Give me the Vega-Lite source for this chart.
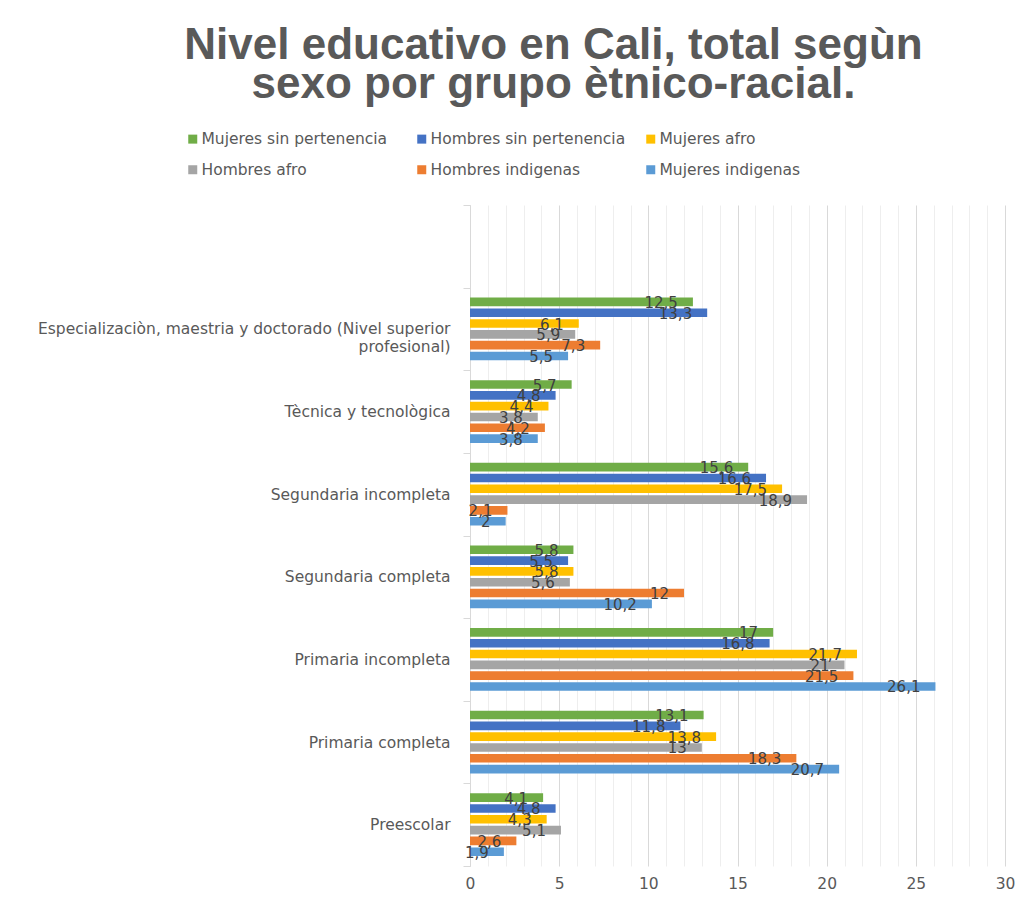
{
  "$schema": "https://vega.github.io/schema/vega-lite/v6.json",
  "autosize": {"type": "none"},
  "padding": {"left": 470, "top": 205, "right": 22, "bottom": 31},
  "width": 535,
  "height": 661,
  "background": "white",
  "title": {
    "text": ["Nivel educativo en Cali, total segùn", "sexo por grupo ètnico-racial."],
    "font": "Liberation Sans",
    "fontSize": 44,
    "fontWeight": "bold",
    "color": "#595959",
    "lineHeight": 39,
    "anchor": "middle",
    "frame": "group",
    "dx": -184,
    "offset": 24
  },
  "config": {
    "view": {"stroke": null},
    "font": "DejaVu Sans"
  },
  "data": {
    "values": [
      {"nivel": "Especializaciòn, maestria y doctorado (Nivel superior profesional)", "grupo": "Mujeres sin pertenencia", "valor": 12.5},
      {"nivel": "Especializaciòn, maestria y doctorado (Nivel superior profesional)", "grupo": "Hombres sin pertenencia", "valor": 13.3},
      {"nivel": "Especializaciòn, maestria y doctorado (Nivel superior profesional)", "grupo": "Mujeres afro", "valor": 6.1},
      {"nivel": "Especializaciòn, maestria y doctorado (Nivel superior profesional)", "grupo": "Hombres afro", "valor": 5.9},
      {"nivel": "Especializaciòn, maestria y doctorado (Nivel superior profesional)", "grupo": "Hombres indigenas", "valor": 7.3},
      {"nivel": "Especializaciòn, maestria y doctorado (Nivel superior profesional)", "grupo": "Mujeres indigenas", "valor": 5.5},
      {"nivel": "Tècnica y tecnològica", "grupo": "Mujeres sin pertenencia", "valor": 5.7},
      {"nivel": "Tècnica y tecnològica", "grupo": "Hombres sin pertenencia", "valor": 4.8},
      {"nivel": "Tècnica y tecnològica", "grupo": "Mujeres afro", "valor": 4.4},
      {"nivel": "Tècnica y tecnològica", "grupo": "Hombres afro", "valor": 3.8},
      {"nivel": "Tècnica y tecnològica", "grupo": "Hombres indigenas", "valor": 4.2},
      {"nivel": "Tècnica y tecnològica", "grupo": "Mujeres indigenas", "valor": 3.8},
      {"nivel": "Segundaria incompleta", "grupo": "Mujeres sin pertenencia", "valor": 15.6},
      {"nivel": "Segundaria incompleta", "grupo": "Hombres sin pertenencia", "valor": 16.6},
      {"nivel": "Segundaria incompleta", "grupo": "Mujeres afro", "valor": 17.5},
      {"nivel": "Segundaria incompleta", "grupo": "Hombres afro", "valor": 18.9},
      {"nivel": "Segundaria incompleta", "grupo": "Hombres indigenas", "valor": 2.1},
      {"nivel": "Segundaria incompleta", "grupo": "Mujeres indigenas", "valor": 2},
      {"nivel": "Segundaria completa", "grupo": "Mujeres sin pertenencia", "valor": 5.8},
      {"nivel": "Segundaria completa", "grupo": "Hombres sin pertenencia", "valor": 5.5},
      {"nivel": "Segundaria completa", "grupo": "Mujeres afro", "valor": 5.8},
      {"nivel": "Segundaria completa", "grupo": "Hombres afro", "valor": 5.6},
      {"nivel": "Segundaria completa", "grupo": "Hombres indigenas", "valor": 12},
      {"nivel": "Segundaria completa", "grupo": "Mujeres indigenas", "valor": 10.2},
      {"nivel": "Primaria incompleta", "grupo": "Mujeres sin pertenencia", "valor": 17},
      {"nivel": "Primaria incompleta", "grupo": "Hombres sin pertenencia", "valor": 16.8},
      {"nivel": "Primaria incompleta", "grupo": "Mujeres afro", "valor": 21.7},
      {"nivel": "Primaria incompleta", "grupo": "Hombres afro", "valor": 21},
      {"nivel": "Primaria incompleta", "grupo": "Hombres indigenas", "valor": 21.5},
      {"nivel": "Primaria incompleta", "grupo": "Mujeres indigenas", "valor": 26.1},
      {"nivel": "Primaria completa", "grupo": "Mujeres sin pertenencia", "valor": 13.1},
      {"nivel": "Primaria completa", "grupo": "Hombres sin pertenencia", "valor": 11.8},
      {"nivel": "Primaria completa", "grupo": "Mujeres afro", "valor": 13.8},
      {"nivel": "Primaria completa", "grupo": "Hombres afro", "valor": 13},
      {"nivel": "Primaria completa", "grupo": "Hombres indigenas", "valor": 18.3},
      {"nivel": "Primaria completa", "grupo": "Mujeres indigenas", "valor": 20.7},
      {"nivel": "Preescolar", "grupo": "Mujeres sin pertenencia", "valor": 4.1},
      {"nivel": "Preescolar", "grupo": "Hombres sin pertenencia", "valor": 4.8},
      {"nivel": "Preescolar", "grupo": "Mujeres afro", "valor": 4.3},
      {"nivel": "Preescolar", "grupo": "Hombres afro", "valor": 5.1},
      {"nivel": "Preescolar", "grupo": "Hombres indigenas", "valor": 2.6},
      {"nivel": "Preescolar", "grupo": "Mujeres indigenas", "valor": 1.9}
    ]
  },
  "encoding": {
    "y": {
      "field": "nivel",
      "type": "nominal",
      "title": null,
      "scale": {
        "domain": [" ", "Especializaciòn, maestria y doctorado (Nivel superior profesional)", "Tècnica y tecnològica", "Segundaria incompleta", "Segundaria completa", "Primaria incompleta", "Primaria completa", "Preescolar"],
        "paddingInner": 0,
        "paddingOuter": 0
      },
      "axis": {
        "tickBand": "extent",
        "grid": false,
        "domainColor": "#d9d9d9",
        "tickColor": "#d9d9d9",
        "tickSize": 7,
        "labelPadding": 13,
        "labelFont": "DejaVu Sans",
        "labelFontSize": 15.5,
        "labelColor": "#595959",
        "labelLimit": 500,
        "labelLineHeight": 18,
        "labelExpr": "datum.value == 'Especializaciòn, maestria y doctorado (Nivel superior profesional)' ? ['Especializaciòn, maestria y doctorado (Nivel superior', 'profesional)'] : datum.label"
      }
    },
    "x": {
      "field": "valor",
      "type": "quantitative",
      "title": null,
      "scale": {"domain": [0, 30], "nice": false},
      "axis": {
        "values": [0, 1, 2, 3, 4, 5, 6, 7, 8, 9, 10, 11, 12, 13, 14, 15, 16, 17, 18, 19, 20, 21, 22, 23, 24, 25, 26, 27, 28, 29, 30],
        "labelExpr": "datum.value % 5 == 0 ? datum.label : ''",
        "labelFlush": false,
        "grid": true,
        "gridColor": {"condition": {"test": "datum.value % 5 == 0", "value": "#d9d9d9"}, "value": "#eeeeee"},
        "domain": false,
        "ticks": false,
        "labelPadding": 10,
        "labelFont": "DejaVu Sans",
        "labelFontSize": 15.5,
        "labelColor": "#595959"
      }
    },
    "yOffset": {
      "field": "grupo",
      "type": "nominal",
      "scale": {
        "domain": ["Mujeres sin pertenencia", "Hombres sin pertenencia", "Mujeres afro", "Hombres afro", "Hombres indigenas", "Mujeres indigenas"],
        "paddingInner": 0.2,
        "paddingOuter": 0.92
      }
    }
  },
  "layer": [
    {
      "mark": {"type": "bar"},
      "encoding": {
        "color": {
          "field": "grupo",
          "type": "nominal",
          "scale": {
            "domain": ["Mujeres sin pertenencia", "Hombres sin pertenencia", "Mujeres afro", "Hombres afro", "Hombres indigenas", "Mujeres indigenas"],
            "range": ["#70AD47", "#4472C4", "#FFC000", "#A5A5A5", "#ED7D31", "#5B9BD5"]
          },
          "legend": {
            "title": null,
            "orient": "none",
            "legendX": -285,
            "legendY": -74,
            "direction": "horizontal",
            "columns": 3,
            "gridAlign": "all",
            "columnPadding": 17,
            "rowPadding": 14,
            "padding": 0,
            "symbolType": "square",
            "symbolSize": 81,
            "symbolStrokeWidth": 0,
            "labelOffset": 1,
            "labelFont": "DejaVu Sans",
            "labelFontSize": 15.5,
            "labelColor": "#595959",
            "labelLimit": 400
          }
        }
      }
    },
    {
      "mark": {"type": "text", "align": "right", "baseline": "middle", "dx": -15, "dy": 1, "font": "DejaVu Sans", "fontSize": 15, "color": "#404040",
        "text": {"expr": "replace(format(datum.valor, '.1~f'), '.', ',')"}},
      "encoding": {}
    }
  ]
}
